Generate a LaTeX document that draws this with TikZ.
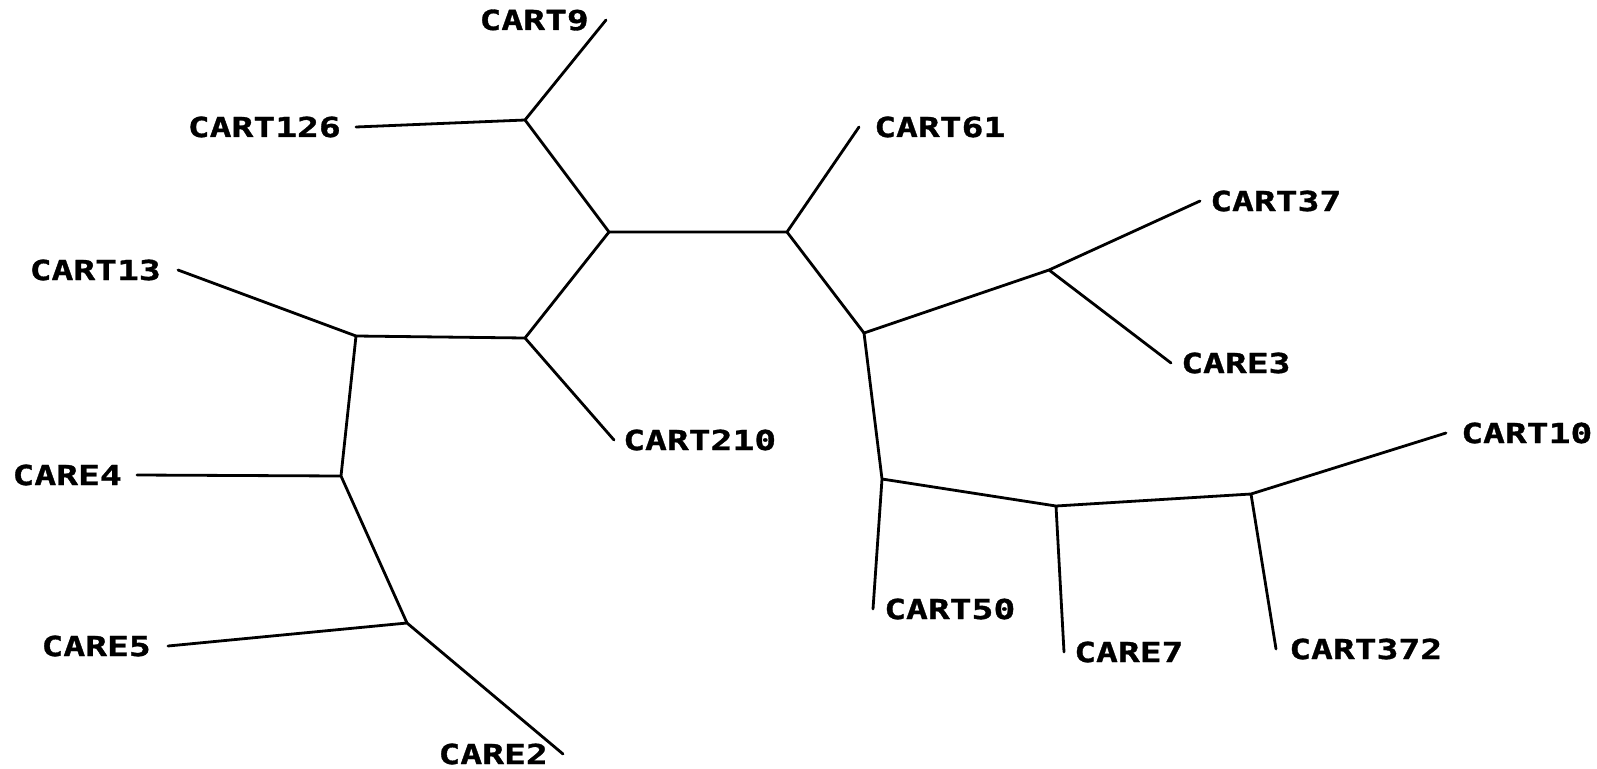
\documentclass[tikz,border=0pt]{standalone}
\usepackage{fontspec}
\newfontfamily\leaffont[FakeStretch=1.32, BoldFeatures={FakeBold=1.2}]{DejaVu Sans Mono}
\usetikzlibrary{positioning}

\begin{document}
\begin{tikzpicture}[x=1pt, y=-1pt, line join=round, line cap=round,
    branch/.style={line width=2.8pt},
    taxon/.style={inner sep=0pt, font={\leaffont\fontsize{27.5}{30}\bfseries\selectfont}}]
      \useasboundingbox (0,0) rectangle (1597,768);
      \def\g{15pt}

      % inner nodes of the tree
      \coordinate (J1) at (525,120);
      \coordinate (J2) at (609,232);
      \coordinate (J3) at (787,232);
      \coordinate (J4) at (864,333);
      \coordinate (J5) at (1049,270);
      \coordinate (J6) at (882,479);
      \coordinate (J7) at (1056,506);
      \coordinate (J8) at (1251,494);
      \coordinate (J9) at (356,336);
      \coordinate (J10) at (525,338);
      \coordinate (J11) at (341,476);
      \coordinate (J12) at (407,623);

      % leaf ends
      \coordinate (T9) at (606,20);
      \coordinate (T126) at (356,127);
      \coordinate (T61) at (859,127);
      \coordinate (T37) at (1200,201);
      \coordinate (E3) at (1171,363);
      \coordinate (T10) at (1446,433);
      \coordinate (T50) at (873,609);
      \coordinate (E7) at (1064,652);
      \coordinate (T372) at (1276,649);
      \coordinate (T210) at (614,440);
      \coordinate (T13) at (178,270);
      \coordinate (E4) at (137,475);
      \coordinate (E5) at (168,646);
      \coordinate (E2) at (563,754);

      % labels
      \node[taxon, left=17pt of T9] (cart9) {CART9};
      \node[taxon, left=\g of T126] (cart126) {CART126};
      \node[taxon, right=\g of T61] (cart61) {CART61};
      \node[taxon, right=10pt of T37] (cart37) {CART37};
      \node[taxon, right=10pt of E3] (care3) {CARE3};
      \node[taxon, right=\g of T10] (cart10) {CART10};
      \node[taxon, right=11pt of T50] (cart50) {CART50};
      \node[taxon, right=10pt of E7] (care7) {CARE7};
      \node[taxon, right=13pt of T372] (cart372) {CART372};
      \node[taxon, right=9pt of T210] (cart210) {CART210};
      \node[taxon, left=17pt of T13] (cart13) {CART13};
      \node[taxon, left=\g of E4] (care4) {CARE4};
      \node[taxon, left=17pt of E5] (care5) {CARE5};
      \node[taxon, left=\g of E2] (care2) {CARE2};

      % branches
      \draw[branch] (T9)--(J1)--(T126);
      \draw[branch] (J1)--(J2)--(J3)--(T61);
      \draw[branch] (J3)--(J4)--(J5)--(T37) (J5)--(E3);
      \draw[branch] (J4)--(J6)--(T50) (J6)--(J7)--(E7) (J7)--(J8)--(T372) (J8)--(T10);
      \draw[branch] (J2)--(J10)--(T210) (J10)--(J9)--(T13);
      \draw[branch] (J9)--(J11)--(E4) (J11)--(J12)--(E5) (J12)--(E2);
\end{tikzpicture}
\end{document}
